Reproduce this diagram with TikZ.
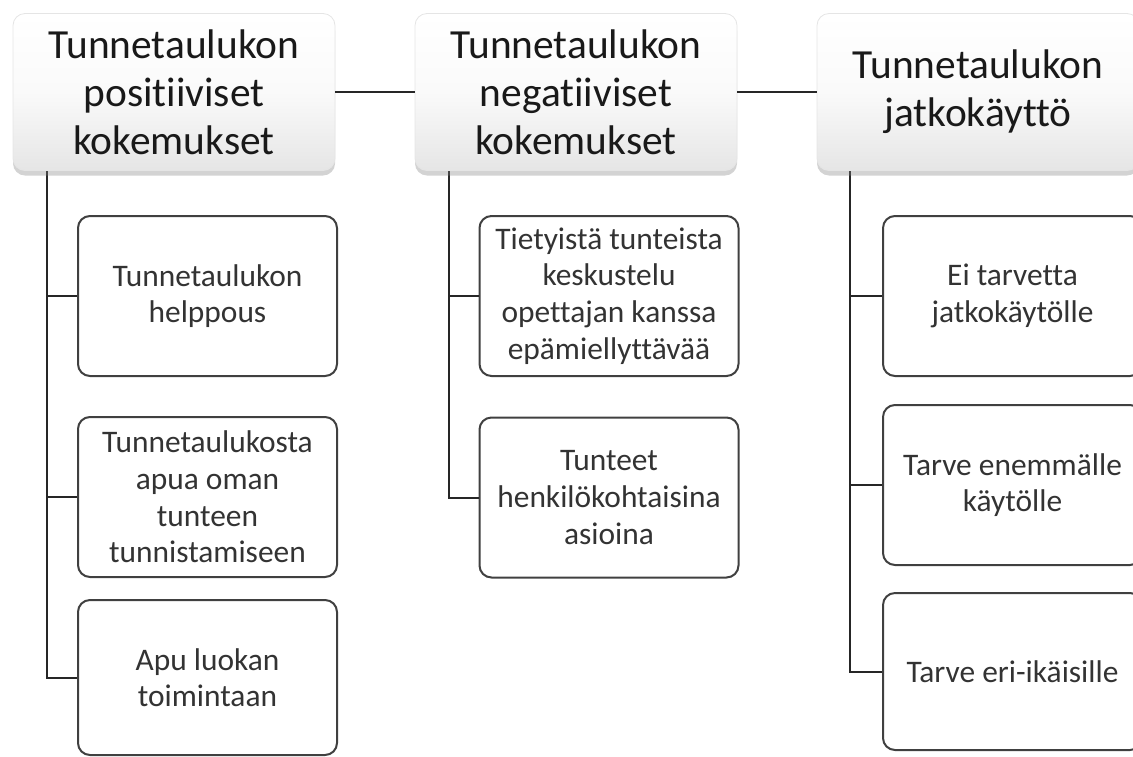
\documentclass[tikz,border=0pt]{standalone}
\usepackage{fontspec}
\setmainfont{Carlito}[Ligatures=CommonOff]
\usetikzlibrary{shadows}

\begin{document}
\begin{tikzpicture}[x=0.5pt,y=-0.5pt,
  topbox/.style={rounded corners=6pt, draw=black!10, top color=white, bottom color=black!10,
    middle color=black!2, minimum width=161pt, minimum height=78.5pt, align=center,
    text=black!90, font=\fontsize{20.7}{24}\selectfont,
    drop shadow={shadow xshift=0pt, shadow yshift=-2.5pt, opacity=0.35}},
  subbox/.style={rounded corners=6pt, draw=black!75, line width=1pt, fill=white,
    minimum width=129.5pt, minimum height=80pt, align=center, text=black!80,
    font=\fontsize{15.7}{18.3}\selectfont},
  link/.style={line width=1pt, draw=black!85}]

\useasboundingbox (0,0) rectangle (1133,756);

\coordinate (pos-t) at (47,170);
\coordinate (neg-t) at (449,170);
\coordinate (jat-t) at (850,170);

\node[subbox] (helppous) at (207.5,296) {Tunnetaulukon\\helppous};
\node[subbox] (apua) at (207.5,497) {Tunnetaulukosta\\apua oman\\tunteen\\tunnistamiseen};
\node[subbox, minimum height=77.5pt] (luokka) at (207.5,677.5) {Apu luokan\\toimintaan};

\node[subbox] (keskustelu) at (609,296) {Tietyistä tunteista\\keskustelu\\opettajan kanssa\\epämiellyttävää};
\node[subbox] (tunteet) at (609,497.5) {Tunteet\\henkilökohtaisina\\asioina};

\node[subbox] (eitarve) at (1012.5,296) {Ei tarvetta\\jatkokäytölle};
\node[subbox] (enemman) at (1012.5,485) {Tarve enemmälle\\käytölle};
\node[subbox, minimum height=78.5pt] (ikaisille) at (1012.5,671.5) {Tarve eri-ikäisille};

\draw[link] (pos-t) |- (helppous.west);
\draw[link] (pos-t) |- (apua.west);
\draw[link] (pos-t) |- (luokka.west);

\draw[link] (neg-t) |- (keskustelu.west);
\draw[link] (neg-t) |- (tunteet.west);

\draw[link] (jat-t) |- (eitarve.west);
\draw[link] (jat-t) |- (enemman.west);
\draw[link] (jat-t) |- (ikaisille.west);

\node[topbox] (pos) at (174,92) {Tunnetaulukon\\positiiviset\\kokemukset};
\node[topbox] (neg) at (576,92) {Tunnetaulukon\\negatiiviset\\kokemukset};
\node[topbox] (jat) at (978,92) {Tunnetaulukon\\jatkokäyttö};

\draw[link] (pos.east) -- (neg.west);
\draw[link] (neg.east) -- (jat.west);

\end{tikzpicture}
\end{document}
